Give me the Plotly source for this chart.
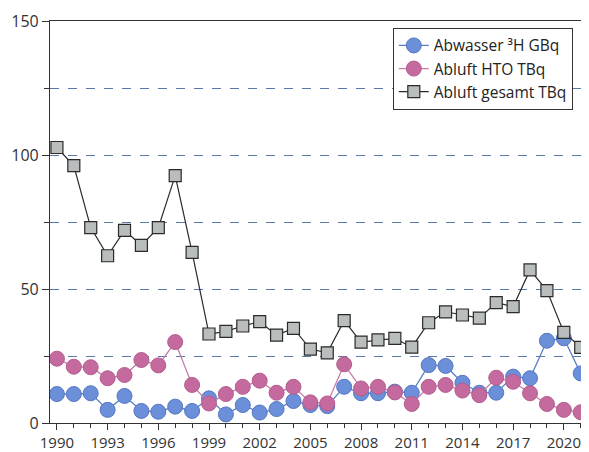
import plotly.graph_objects as go

years = list(range(1990, 2022))
abwasser_h3_gbq = [10.8, 10.8, 11.1, 4.9, 10.1, 4.5, 4.2, 6.1, 4.5, 9.2, 3.2,
                   6.7, 3.9, 5.2, 8.2, 6.7, 6.3, 13.5, 11.1, 11.1, 11.7, 11.3,
                   21.6, 21.3, 15.0, 11.3, 11.3, 17.3, 16.7, 30.7, 31.6, 18.5]
abluft_hto_tbq = [24.0, 21.0, 20.8, 16.7, 17.9, 23.5, 21.5, 30.2, 14.2, 7.3, 10.8,
                  13.5, 15.8, 11.3, 13.5, 7.7, 7.3, 21.9, 12.9, 13.5, 11.4, 7.1,
                  13.5, 14.2, 12.1, 10.4, 16.9, 15.4, 11.1, 7.1, 4.9, 4.0]
abluft_gesamt_tbq = [102.8, 96.0, 72.9, 62.4, 71.9, 66.3, 72.9, 92.3, 63.7, 33.2, 34.2,
                     36.2, 37.8, 32.8, 35.3, 27.6, 26.2, 38.2, 30.2, 31.0, 31.6, 28.3,
                     37.4, 41.5, 40.3, 39.1, 44.9, 43.4, 57.1, 49.4, 33.8, 28.2]

names = ["Abwasser ³H GBq", "Abluft HTO TBq", "Abluft gesamt TBq"]
xticks = list(range(1990, 2022, 3))

font_fam = "Open Sans, Liberation Sans, sans-serif"

fig = go.Figure()
fig.add_trace(go.Scatter(
    x=years, y=abwasser_h3_gbq, name=names[0], mode="lines+markers",
    line=dict(color="#5a7fc8", width=1.3),
    marker=dict(symbol="circle", size=15, color="#6b8fd8",
                line=dict(color="#5576c0", width=1))))
fig.add_trace(go.Scatter(
    x=years, y=abluft_hto_tbq, name=names[1], mode="lines+markers",
    line=dict(color="#c77ba9", width=1.3),
    marker=dict(symbol="circle", size=15, color="#c56a9f",
                line=dict(color="#b35d8f", width=1))))
fig.add_trace(go.Scatter(
    x=years, y=abluft_gesamt_tbq, name=names[2], mode="lines+markers",
    line=dict(color="#2a2a2a", width=1.2),
    marker=dict(symbol="square", size=12, color="#b9bdbd",
                line=dict(color="#2a2a2a", width=1.2))))

# page body has an 8px default margin, so the figure is sized/offset to compensate
fig.update_layout(
    width=581, height=444,
    margin=dict(l=42, r=0, t=13, b=29),
    paper_bgcolor="white", plot_bgcolor="white",
    font=dict(family=font_fam, size=15, color="#333333"),
    showlegend=True,
    legend=dict(x=0.636, y=0.983, xanchor="left", yanchor="top",
                bgcolor="white", bordercolor="#333333", borderwidth=1,
                font=dict(size=15.5, color="#222222"), traceorder="normal",
                itemwidth=30),
)
fig.update_xaxes(
    range=[1989.59, 2021.49], automargin=False,
    tickmode="array", tickvals=xticks, ticktext=[str(v) for v in xticks],
    ticks="outside", ticklen=6, tickcolor="#333333",
    minor=dict(dtick=1, tick0=1990, ticks="outside", ticklen=4, tickcolor="#333333"),
    showline=True, linecolor="#333333", linewidth=1.2, mirror=True,
    showgrid=False, zeroline=False,
    tickfont=dict(size=15, color="#333333"),
)
fig.update_yaxes(
    range=[0, 150], dtick=50, tick0=0, automargin=False,
    ticks="outside", ticklen=7, tickcolor="#333333",
    showline=True, linecolor="#333333", linewidth=1.2, mirror=True,
    showgrid=True, gridcolor="#5a78a8", gridwidth=1, griddash="dash",
    minor=dict(dtick=25, tick0=0, ticks="outside", ticklen=5, tickcolor="#333333",
               showgrid=True, gridcolor="#5a78a8", gridwidth=1, griddash="dash"),
    zeroline=False,
    tickfont=dict(size=16, color="#333333"),
)

fig.write_html("out.html")
